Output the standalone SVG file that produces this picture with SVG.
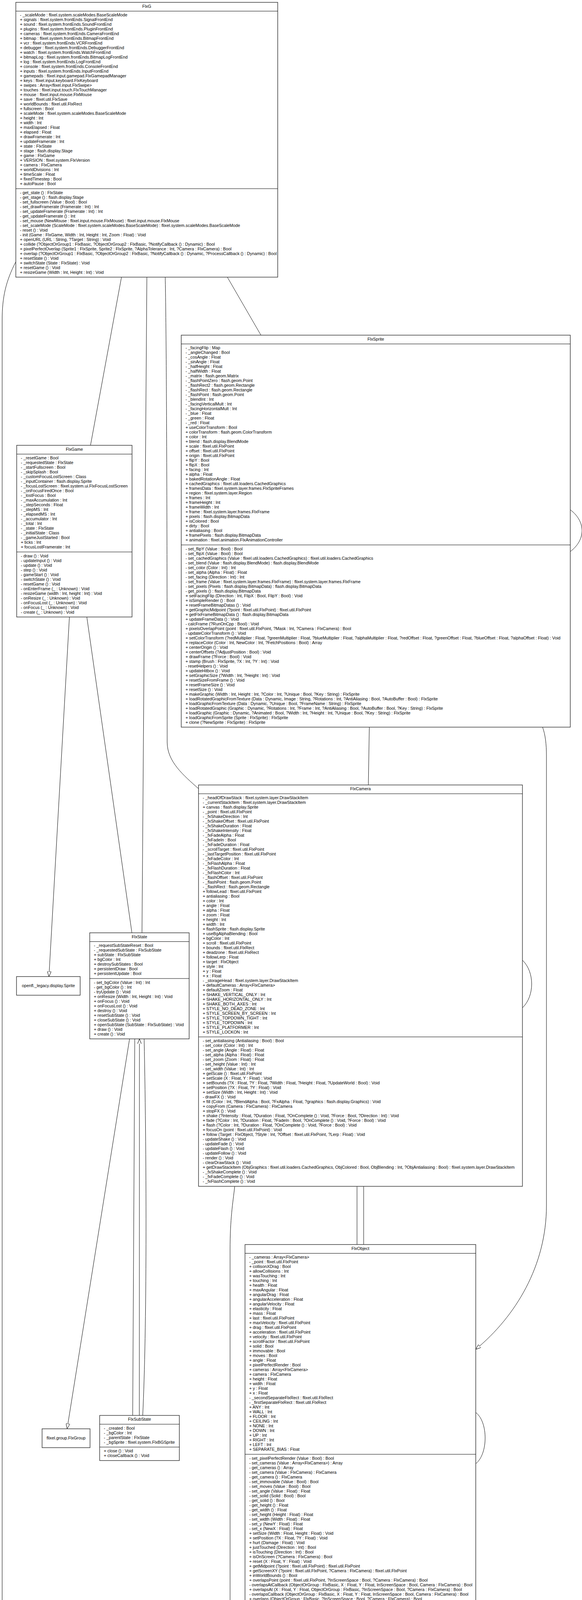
<svg xmlns="http://www.w3.org/2000/svg" width="1490" height="4787" viewBox="0 0 1490 4787">
<style>
.bg { fill:#ffffff; }
.b { fill:#ffffff; stroke:#3a3a3a; stroke-width:1.5; }
.s { stroke:#000000; stroke-width:1; }
.t { font-family:"Liberation Sans", Arial, sans-serif; font-size:10.8px; fill:#000000; }
.c { text-anchor:middle; }
.r { text-anchor:end; }
.e { fill:none; stroke:#000000; stroke-width:1; }
</style>
<defs>
<marker id="tri" viewBox="0 0 13 10" refX="13" refY="5" markerWidth="13" markerHeight="10" markerUnits="userSpaceOnUse" orient="auto">
<path d="M0,0 L13,5 L0,10 Z" fill="#ffffff" stroke="#000000" stroke-width="1"/>
</marker>
</defs>
<rect class="bg" x="0" y="0" width="1490" height="4787"/>

<g id="connectors">
<path class="e" d="M40.5,670 C15,720 5.5,760 5.5,820 L5.5,4232 C5.5,4330 250,4385 566.4,4430"/>
<path class="e" d="M311,709.5 L231.7,1140"/>
<path class="e" d="M376,709.5 L363.5,2388"/>
<path class="e" d="M423,709.5 C427,900 428,1500 428,1900 C428,1950 470,1985 508.3,2019"/>
<path class="e" d="M582,709.5 L668,858"/>
<path class="e" d="M177.7,1579.5 L125.3,2500" marker-end="url(#tri)"/>
<path class="e" d="M222.3,1579.5 L337.7,2388"/>
<path class="e" d="M945.5,1861.5 L943,2009.5"/>
<path class="e" d="M1389,1861.5 C1396,1880 1399,1905 1399,1935 L1399,3086 C1399,3240 1320,3370 1218,3454.3" marker-end="url(#tri)"/>
<path class="e" d="M1460,1305 C1500,1335 1500,1382 1460,1412"/>
<path class="e" d="M1337.5,2458 C1369,2488 1369,2550 1337.5,2580"/>
<path class="e" d="M1218,3616 C1250,3640 1250,3722 1218,3747"/>
<path class="e" d="M601,3037 C596,3080 589,3120 589,3200 L589,4260 C589,4290 605,4305 612.5,4326" marker-end="url(#tri)"/>
<path class="e" d="M914,3037 L914,3186"/>
<path class="e" d="M931,3037 L931,3186"/>
<path class="e" d="M760.7,4177.5 L720,4326" marker-end="url(#tri)"/>
<path class="e" d="M778.2,4177.5 L730.5,4326"/>
<path class="e" d="M687.7,4561.5 L687.7,4709.8" marker-end="url(#tri)"/>
<path class="e" d="M331.7,2659.5 L171.8,3657.7" marker-end="url(#tri)"/>
<path class="e" d="M356.7,3623.5 L357,2659.5" marker-end="url(#tri)"/>
<path class="e" d="M339.7,3623.5 L345,2659.5"/>
<path class="e" d="M365.4,3623.5 C376,3400 376,3000 369,2659.5"/>
</g>

<g id="FlxG">
<rect class="b" x="40.5" y="6" width="670.5" height="703.5"/>
<line class="s" x1="40.5" y1="28.5" x2="711" y2="28.5"/>
<line class="s" x1="40.5" y1="483" x2="711" y2="483"/>
<text class="t c" x="375.75" y="19.8">FlxG</text>
<text class="t" x="51.1" y="42.3"><tspan x="51.1">- _scaleMode : flixel.system.scaleModes.BaseScaleMode</tspan><tspan x="51.1" dy="12">+ signals : flixel.system.frontEnds.SignalFrontEnd</tspan><tspan x="51.1" dy="12">+ sound : flixel.system.frontEnds.SoundFrontEnd</tspan><tspan x="51.1" dy="12">+ plugins : flixel.system.frontEnds.PluginFrontEnd</tspan><tspan x="51.1" dy="12">+ cameras : flixel.system.frontEnds.CameraFrontEnd</tspan><tspan x="51.1" dy="12">+ bitmap : flixel.system.frontEnds.BitmapFrontEnd</tspan><tspan x="51.1" dy="12">+ vcr : flixel.system.frontEnds.VCRFrontEnd</tspan><tspan x="51.1" dy="12">+ debugger : flixel.system.frontEnds.DebuggerFrontEnd</tspan><tspan x="51.1" dy="12">+ watch : flixel.system.frontEnds.WatchFrontEnd</tspan><tspan x="51.1" dy="12">+ bitmapLog : flixel.system.frontEnds.BitmapLogFrontEnd</tspan><tspan x="51.1" dy="12">+ log : flixel.system.frontEnds.LogFrontEnd</tspan><tspan x="51.1" dy="12">+ console : flixel.system.frontEnds.ConsoleFrontEnd</tspan><tspan x="51.1" dy="12">+ inputs : flixel.system.frontEnds.InputFrontEnd</tspan><tspan x="51.1" dy="12">+ gamepads : flixel.input.gamepad.FlxGamepadManager</tspan><tspan x="51.1" dy="12">+ keys : flixel.input.keyboard.FlxKeyboard</tspan><tspan x="51.1" dy="12">+ swipes : Array&lt;flixel.input.FlxSwipe&gt;</tspan><tspan x="51.1" dy="12">+ touches : flixel.input.touch.FlxTouchManager</tspan><tspan x="51.1" dy="12">+ mouse : flixel.input.mouse.FlxMouse</tspan><tspan x="51.1" dy="12">+ save : flixel.util.FlxSave</tspan><tspan x="51.1" dy="12">+ worldBounds : flixel.util.FlxRect</tspan><tspan x="51.1" dy="12">+ fullscreen : Bool</tspan><tspan x="51.1" dy="12">+ scaleMode : flixel.system.scaleModes.BaseScaleMode</tspan><tspan x="51.1" dy="12">+ height : Int</tspan><tspan x="51.1" dy="12">+ width : Int</tspan><tspan x="51.1" dy="12">+ maxElapsed : Float</tspan><tspan x="51.1" dy="12">+ elapsed : Float</tspan><tspan x="51.1" dy="12">+ drawFramerate : Int</tspan><tspan x="51.1" dy="12">+ updateFramerate : Int</tspan><tspan x="51.1" dy="12">+ state : FlxState</tspan><tspan x="51.1" dy="12">+ stage : flash.display.Stage</tspan><tspan x="51.1" dy="12">+ game : FlxGame</tspan><tspan x="51.1" dy="12">+ VERSION : flixel.system.FlxVersion</tspan><tspan x="51.1" dy="12">+ camera : FlxCamera</tspan><tspan x="51.1" dy="12">+ worldDivisions : Int</tspan><tspan x="51.1" dy="12">+ timeScale : Float</tspan><tspan x="51.1" dy="12">+ fixedTimestep : Bool</tspan><tspan x="51.1" dy="12">+ autoPause : Bool</tspan></text>
<text class="t" x="51.1" y="496.8"><tspan x="51.1">- get_state () : FlxState</tspan><tspan x="51.1" dy="12">- get_stage () : flash.display.Stage</tspan><tspan x="51.1" dy="12">- set_fullscreen (Value : Bool) : Bool</tspan><tspan x="51.1" dy="12">- set_drawFramerate (Framerate : Int) : Int</tspan><tspan x="51.1" dy="12">- set_updateFramerate (Framerate : Int) : Int</tspan><tspan x="51.1" dy="12">- get_updateFramerate () : Int</tspan><tspan x="51.1" dy="12">- set_mouse (NewMouse : flixel.input.mouse.FlxMouse) : flixel.input.mouse.FlxMouse</tspan><tspan x="51.1" dy="12">- set_scaleMode (ScaleMode : flixel.system.scaleModes.BaseScaleMode) : flixel.system.scaleModes.BaseScaleMode</tspan><tspan x="51.1" dy="12">- reset () : Void</tspan><tspan x="51.1" dy="12">- init (Game : FlxGame, Width : Int, Height : Int, Zoom : Float) : Void</tspan><tspan x="51.1" dy="12">+ openURL (URL : String, ?Target : String) : Void</tspan><tspan x="51.1" dy="12">+ collide (?ObjectOrGroup1 : FlxBasic, ?ObjectOrGroup2 : FlxBasic, ?NotifyCallback () : Dynamic) : Bool</tspan><tspan x="51.1" dy="12">+ pixelPerfectOverlap (Sprite1 : FlxSprite, Sprite2 : FlxSprite, ?AlphaTolerance : Int, ?Camera : FlxCamera) : Bool</tspan><tspan x="51.1" dy="12">+ overlap (?ObjectOrGroup1 : FlxBasic, ?ObjectOrGroup2 : FlxBasic, ?NotifyCallback () : Dynamic, ?ProcessCallback () : Dynamic) : Bool</tspan><tspan x="51.1" dy="12">+ resetState () : Void</tspan><tspan x="51.1" dy="12">+ switchState (State : FlxState) : Void</tspan><tspan x="51.1" dy="12">+ resetGame () : Void</tspan><tspan x="51.1" dy="12">+ resizeGame (Width : Int, Height : Int) : Void</tspan></text>
</g>

<g id="FlxSprite">
<rect class="b" x="464" y="858" width="996" height="1003.5"/>
<line class="s" x1="464" y1="880.5" x2="1460" y2="880.5"/>
<line class="s" x1="464" y1="1395" x2="1460" y2="1395"/>
<text class="t c" x="962" y="871.8">FlxSprite</text>
<text class="t" x="475" y="894.3"><tspan x="475">- _facingFlip : Map</tspan><tspan x="475" dy="12">- _angleChanged : Bool</tspan><tspan x="475" dy="12">- _cosAngle : Float</tspan><tspan x="475" dy="12">- _sinAngle : Float</tspan><tspan x="475" dy="12">- _halfHeight : Float</tspan><tspan x="475" dy="12">- _halfWidth : Float</tspan><tspan x="475" dy="12">- _matrix : flash.geom.Matrix</tspan><tspan x="475" dy="12">- _flashPointZero : flash.geom.Point</tspan><tspan x="475" dy="12">- _flashRect2 : flash.geom.Rectangle</tspan><tspan x="475" dy="12">- _flashRect : flash.geom.Rectangle</tspan><tspan x="475" dy="12">- _flashPoint : flash.geom.Point</tspan><tspan x="475" dy="12">- _blendInt : Int</tspan><tspan x="475" dy="12">- _facingVerticalMult : Int</tspan><tspan x="475" dy="12">- _facingHorizontalMult : Int</tspan><tspan x="475" dy="12">- _blue : Float</tspan><tspan x="475" dy="12">- _green : Float</tspan><tspan x="475" dy="12">- _red : Float</tspan><tspan x="475" dy="12">+ useColorTransform : Bool</tspan><tspan x="475" dy="12">+ colorTransform : flash.geom.ColorTransform</tspan><tspan x="475" dy="12">+ color : Int</tspan><tspan x="475" dy="12">+ blend : flash.display.BlendMode</tspan><tspan x="475" dy="12">+ scale : flixel.util.FlxPoint</tspan><tspan x="475" dy="12">+ offset : flixel.util.FlxPoint</tspan><tspan x="475" dy="12">+ origin : flixel.util.FlxPoint</tspan><tspan x="475" dy="12">+ flipY : Bool</tspan><tspan x="475" dy="12">+ flipX : Bool</tspan><tspan x="475" dy="12">+ facing : Int</tspan><tspan x="475" dy="12">+ alpha : Float</tspan><tspan x="475" dy="12">+ bakedRotationAngle : Float</tspan><tspan x="475" dy="12">+ cachedGraphics : flixel.util.loaders.CachedGraphics</tspan><tspan x="475" dy="12">+ framesData : flixel.system.layer.frames.FlxSpriteFrames</tspan><tspan x="475" dy="12">+ region : flixel.system.layer.Region</tspan><tspan x="475" dy="12">+ frames : Int</tspan><tspan x="475" dy="12">+ frameHeight : Int</tspan><tspan x="475" dy="12">+ frameWidth : Int</tspan><tspan x="475" dy="12">+ frame : flixel.system.layer.frames.FlxFrame</tspan><tspan x="475" dy="12">+ pixels : flash.display.BitmapData</tspan><tspan x="475" dy="12">+ isColored : Bool</tspan><tspan x="475" dy="12">+ dirty : Bool</tspan><tspan x="475" dy="12">+ antialiasing : Bool</tspan><tspan x="475" dy="12">+ framePixels : flash.display.BitmapData</tspan><tspan x="475" dy="12">+ animation : flixel.animation.FlxAnimationController</tspan></text>
<text class="t" x="475" y="1408.8"><tspan x="475">- set_flipY (Value : Bool) : Bool</tspan><tspan x="475" dy="12">- set_flipX (Value : Bool) : Bool</tspan><tspan x="475" dy="12">- set_cachedGraphics (Value : flixel.util.loaders.CachedGraphics) : flixel.util.loaders.CachedGraphics</tspan><tspan x="475" dy="12">- set_blend (Value : flash.display.BlendMode) : flash.display.BlendMode</tspan><tspan x="475" dy="12">- set_color (Color : Int) : Int</tspan><tspan x="475" dy="12">- set_alpha (Alpha : Float) : Float</tspan><tspan x="475" dy="12">- set_facing (Direction : Int) : Int</tspan><tspan x="475" dy="12">- set_frame (Value : flixel.system.layer.frames.FlxFrame) : flixel.system.layer.frames.FlxFrame</tspan><tspan x="475" dy="12">- set_pixels (Pixels : flash.display.BitmapData) : flash.display.BitmapData</tspan><tspan x="475" dy="12">- get_pixels () : flash.display.BitmapData</tspan><tspan x="475" dy="12">+ setFacingFlip (Direction : Int, FlipX : Bool, FlipY : Bool) : Void</tspan><tspan x="475" dy="12">+ isSimpleRender () : Bool</tspan><tspan x="475" dy="12">+ resetFrameBitmapDatas () : Void</tspan><tspan x="475" dy="12">+ getGraphicMidpoint (?point : flixel.util.FlxPoint) : flixel.util.FlxPoint</tspan><tspan x="475" dy="12">+ getFlxFrameBitmapData () : flash.display.BitmapData</tspan><tspan x="475" dy="12">+ updateFrameData () : Void</tspan><tspan x="475" dy="12">- calcFrame (?RunOnCpp : Bool) : Void</tspan><tspan x="475" dy="12">+ pixelsOverlapPoint (point : flixel.util.FlxPoint, ?Mask : Int, ?Camera : FlxCamera) : Bool</tspan><tspan x="475" dy="12">- updateColorTransform () : Void</tspan><tspan x="475" dy="12">+ setColorTransform (?redMultiplier : Float, ?greenMultiplier : Float, ?blueMultiplier : Float, ?alphaMultiplier : Float, ?redOffset : Float, ?greenOffset : Float, ?blueOffset : Float, ?alphaOffset : Float) : Void</tspan><tspan x="475" dy="12">+ replaceColor (Color : Int, NewColor : Int, ?FetchPositions : Bool) : Array</tspan><tspan x="475" dy="12">+ centerOrigin () : Void</tspan><tspan x="475" dy="12">+ centerOffsets (?AdjustPosition : Bool) : Void</tspan><tspan x="475" dy="12">+ drawFrame (?Force : Bool) : Void</tspan><tspan x="475" dy="12">+ stamp (Brush : FlxSprite, ?X : Int, ?Y : Int) : Void</tspan><tspan x="475" dy="12">- resetHelpers () : Void</tspan><tspan x="475" dy="12">+ updateHitbox () : Void</tspan><tspan x="475" dy="12">+ setGraphicSize (?Width : Int, ?Height : Int) : Void</tspan><tspan x="475" dy="12">+ resetSizeFromFrame () : Void</tspan><tspan x="475" dy="12">+ resetFrameSize () : Void</tspan><tspan x="475" dy="12">+ resetSize () : Void</tspan><tspan x="475" dy="12">+ makeGraphic (Width : Int, Height : Int, ?Color : Int, ?Unique : Bool, ?Key : String) : FlxSprite</tspan><tspan x="475" dy="12">+ loadRotatedGraphicFromTexture (Data : Dynamic, Image : String, ?Rotations : Int, ?AntiAliasing : Bool, ?AutoBuffer : Bool) : FlxSprite</tspan><tspan x="475" dy="12">+ loadGraphicFromTexture (Data : Dynamic, ?Unique : Bool, ?FrameName : String) : FlxSprite</tspan><tspan x="475" dy="12">+ loadRotatedGraphic (Graphic : Dynamic, ?Rotations : Int, ?Frame : Int, ?AntiAliasing : Bool, ?AutoBuffer : Bool, ?Key : String) : FlxSprite</tspan><tspan x="475" dy="12">+ loadGraphic (Graphic : Dynamic, ?Animated : Bool, ?Width : Int, ?Height : Int, ?Unique : Bool, ?Key : String) : FlxSprite</tspan><tspan x="475" dy="12">+ loadGraphicFromSprite (Sprite : FlxSprite) : FlxSprite</tspan><tspan x="475" dy="12">+ clone (?NewSprite : FlxSprite) : FlxSprite</tspan></text>
</g>

<g id="FlxGame">
<rect class="b" x="42.7" y="1140" width="295.3" height="439.5"/>
<line class="s" x1="42.7" y1="1162.5" x2="338" y2="1162.5"/>
<line class="s" x1="42.7" y1="1413" x2="338" y2="1413"/>
<text class="t c" x="190.35" y="1153.8">FlxGame</text>
<text class="t" x="53.3" y="1176.3"><tspan x="53.3">- _resetGame : Bool</tspan><tspan x="53.3" dy="12">- _requestedState : FlxState</tspan><tspan x="53.3" dy="12">- _startFullscreen : Bool</tspan><tspan x="53.3" dy="12">- _skipSplash : Bool</tspan><tspan x="53.3" dy="12">- _customFocusLostScreen : Class</tspan><tspan x="53.3" dy="12">- _inputContainer : flash.display.Sprite</tspan><tspan x="53.3" dy="12">- _focusLostScreen : flixel.system.ui.FlxFocusLostScreen</tspan><tspan x="53.3" dy="12">- _onFocusFiredOnce : Bool</tspan><tspan x="53.3" dy="12">- _lostFocus : Bool</tspan><tspan x="53.3" dy="12">- _maxAccumulation : Int</tspan><tspan x="53.3" dy="12">- _stepSeconds : Float</tspan><tspan x="53.3" dy="12">- _stepMS : Int</tspan><tspan x="53.3" dy="12">- _elapsedMS : Int</tspan><tspan x="53.3" dy="12">- _accumulator : Int</tspan><tspan x="53.3" dy="12">- _total : Int</tspan><tspan x="53.3" dy="12">- _state : FlxState</tspan><tspan x="53.3" dy="12">- _initialState : Class</tspan><tspan x="53.3" dy="12">- _gameJustStarted : Bool</tspan><tspan x="53.3" dy="12">+ ticks : Int</tspan><tspan x="53.3" dy="12">+ focusLostFramerate : Int</tspan></text>
<text class="t" x="53.3" y="1426.8"><tspan x="53.3">- draw () : Void</tspan><tspan x="53.3" dy="12">- updateInput () : Void</tspan><tspan x="53.3" dy="12">- update () : Void</tspan><tspan x="53.3" dy="12">- step () : Void</tspan><tspan x="53.3" dy="12">- gameStart () : Void</tspan><tspan x="53.3" dy="12">- switchState () : Void</tspan><tspan x="53.3" dy="12">- resetGame () : Void</tspan><tspan x="53.3" dy="12">- onEnterFrame (_ : Unknown) : Void</tspan><tspan x="53.3" dy="12">- resizeGame (width : Int, height : Int) : Void</tspan><tspan x="53.3" dy="12">- onResize (_ : Unknown) : Void</tspan><tspan x="53.3" dy="12">- onFocusLost (_ : Unknown) : Void</tspan><tspan x="53.3" dy="12">- onFocus (_ : Unknown) : Void</tspan><tspan x="53.3" dy="12">- create (_ : Unknown) : Void</tspan></text>
</g>

<g id="FlxCamera">
<rect class="b" x="508.3" y="2009.5" width="829.2" height="1027.5"/>
<line class="s" x1="508.3" y1="2032" x2="1337.5" y2="2032"/>
<line class="s" x1="508.3" y1="2654.5" x2="1337.5" y2="2654.5"/>
<text class="t c" x="922.9" y="2023.3">FlxCamera</text>
<text class="t" x="519" y="2045.8"><tspan x="519">- _headOfDrawStack : flixel.system.layer.DrawStackItem</tspan><tspan x="519" dy="12">- _currentStackItem : flixel.system.layer.DrawStackItem</tspan><tspan x="519" dy="12">+ canvas : flash.display.Sprite</tspan><tspan x="519" dy="12">- _point : flixel.util.FlxPoint</tspan><tspan x="519" dy="12">- _fxShakeDirection : Int</tspan><tspan x="519" dy="12">- _fxShakeOffset : flixel.util.FlxPoint</tspan><tspan x="519" dy="12">- _fxShakeDuration : Float</tspan><tspan x="519" dy="12">- _fxShakeIntensity : Float</tspan><tspan x="519" dy="12">- _fxFadeAlpha : Float</tspan><tspan x="519" dy="12">- _fxFadeIn : Bool</tspan><tspan x="519" dy="12">- _fxFadeDuration : Float</tspan><tspan x="519" dy="12">- _scrollTarget : flixel.util.FlxPoint</tspan><tspan x="519" dy="12">- _lastTargetPosition : flixel.util.FlxPoint</tspan><tspan x="519" dy="12">- _fxFadeColor : Int</tspan><tspan x="519" dy="12">- _fxFlashAlpha : Float</tspan><tspan x="519" dy="12">- _fxFlashDuration : Float</tspan><tspan x="519" dy="12">- _fxFlashColor : Int</tspan><tspan x="519" dy="12">- _flashOffset : flixel.util.FlxPoint</tspan><tspan x="519" dy="12">- _flashPoint : flash.geom.Point</tspan><tspan x="519" dy="12">- _flashRect : flash.geom.Rectangle</tspan><tspan x="519" dy="12">+ followLead : flixel.util.FlxPoint</tspan><tspan x="519" dy="12">+ antialiasing : Bool</tspan><tspan x="519" dy="12">+ color : Int</tspan><tspan x="519" dy="12">+ angle : Float</tspan><tspan x="519" dy="12">+ alpha : Float</tspan><tspan x="519" dy="12">+ zoom : Float</tspan><tspan x="519" dy="12">+ height : Int</tspan><tspan x="519" dy="12">+ width : Int</tspan><tspan x="519" dy="12">+ flashSprite : flash.display.Sprite</tspan><tspan x="519" dy="12">+ useBgAlphaBlending : Bool</tspan><tspan x="519" dy="12">+ bgColor : Int</tspan><tspan x="519" dy="12">+ scroll : flixel.util.FlxPoint</tspan><tspan x="519" dy="12">+ bounds : flixel.util.FlxRect</tspan><tspan x="519" dy="12">+ deadzone : flixel.util.FlxRect</tspan><tspan x="519" dy="12">+ followLerp : Float</tspan><tspan x="519" dy="12">+ target : FlxObject</tspan><tspan x="519" dy="12">+ style : Int</tspan><tspan x="519" dy="12">+ y : Float</tspan><tspan x="519" dy="12">+ x : Float</tspan><tspan x="519" dy="12">- _storageHead : flixel.system.layer.DrawStackItem</tspan><tspan x="519" dy="12">+ defaultCameras : Array&lt;FlxCamera&gt;</tspan><tspan x="519" dy="12">+ defaultZoom : Float</tspan><tspan x="519" dy="12">+ SHAKE_VERTICAL_ONLY : Int</tspan><tspan x="519" dy="12">+ SHAKE_HORIZONTAL_ONLY : Int</tspan><tspan x="519" dy="12">+ SHAKE_BOTH_AXES : Int</tspan><tspan x="519" dy="12">+ STYLE_NO_DEAD_ZONE : Int</tspan><tspan x="519" dy="12">+ STYLE_SCREEN_BY_SCREEN : Int</tspan><tspan x="519" dy="12">+ STYLE_TOPDOWN_TIGHT : Int</tspan><tspan x="519" dy="12">+ STYLE_TOPDOWN : Int</tspan><tspan x="519" dy="12">+ STYLE_PLATFORMER : Int</tspan><tspan x="519" dy="12">+ STYLE_LOCKON : Int</tspan></text>
<text class="t" x="519" y="2668.3"><tspan x="519">- set_antialiasing (Antialiasing : Bool) : Bool</tspan><tspan x="519" dy="12">- set_color (Color : Int) : Int</tspan><tspan x="519" dy="12">- set_angle (Angle : Float) : Float</tspan><tspan x="519" dy="12">- set_alpha (Alpha : Float) : Float</tspan><tspan x="519" dy="12">- set_zoom (Zoom : Float) : Float</tspan><tspan x="519" dy="12">- set_height (Value : Int) : Int</tspan><tspan x="519" dy="12">- set_width (Value : Int) : Int</tspan><tspan x="519" dy="12">+ getScale () : flixel.util.FlxPoint</tspan><tspan x="519" dy="12">+ setScale (X : Float, Y : Float) : Void</tspan><tspan x="519" dy="12">+ setBounds (?X : Float, ?Y : Float, ?Width : Float, ?Height : Float, ?UpdateWorld : Bool) : Void</tspan><tspan x="519" dy="12">+ setPosition (?X : Float, ?Y : Float) : Void</tspan><tspan x="519" dy="12">+ setSize (Width : Int, Height : Int) : Void</tspan><tspan x="519" dy="12">- drawFX () : Void</tspan><tspan x="519" dy="12">+ fill (Color : Int, ?BlendAlpha : Bool, ?FxAlpha : Float, ?graphics : flash.display.Graphics) : Void</tspan><tspan x="519" dy="12">+ copyFrom (Camera : FlxCamera) : FlxCamera</tspan><tspan x="519" dy="12">+ stopFX () : Void</tspan><tspan x="519" dy="12">+ shake (?Intensity : Float, ?Duration : Float, ?OnComplete () : Void, ?Force : Bool, ?Direction : Int) : Void</tspan><tspan x="519" dy="12">+ fade (?Color : Int, ?Duration : Float, ?FadeIn : Bool, ?OnComplete () : Void, ?Force : Bool) : Void</tspan><tspan x="519" dy="12">+ flash (?Color : Int, ?Duration : Float, ?OnComplete () : Void, ?Force : Bool) : Void</tspan><tspan x="519" dy="12">+ focusOn (point : flixel.util.FlxPoint) : Void</tspan><tspan x="519" dy="12">+ follow (Target : FlxObject, ?Style : Int, ?Offset : flixel.util.FlxPoint, ?Lerp : Float) : Void</tspan><tspan x="519" dy="12">- updateShake () : Void</tspan><tspan x="519" dy="12">- updateFade () : Void</tspan><tspan x="519" dy="12">- updateFlash () : Void</tspan><tspan x="519" dy="12">- updateFollow () : Void</tspan><tspan x="519" dy="12">- render () : Void</tspan><tspan x="519" dy="12">- clearDrawStack () : Void</tspan><tspan x="519" dy="12">+ getDrawStackItem (ObjGraphics : flixel.util.loaders.CachedGraphics, ObjColored : Bool, ObjBlending : Int, ?ObjAntialiasing : Bool) : flixel.system.layer.DrawStackItem</tspan><tspan x="519" dy="12">- _fxShakeComplete () : Void</tspan><tspan x="519" dy="12">- _fxFadeComplete () : Void</tspan><tspan x="519" dy="12">- _fxFlashComplete () : Void</tspan></text>
</g>

<g id="FlxState">
<rect class="b" x="229.7" y="2388" width="254.6" height="271.5"/>
<line class="s" x1="229.7" y1="2410.5" x2="484.3" y2="2410.5"/>
<line class="s" x1="229.7" y1="2505" x2="484.3" y2="2505"/>
<text class="t c" x="357" y="2401.8">FlxState</text>
<text class="t" x="240.3" y="2424.3"><tspan x="240.3">- _requestSubStateReset : Bool</tspan><tspan x="240.3" dy="12">- _requestedSubState : FlxSubState</tspan><tspan x="240.3" dy="12">+ subState : FlxSubState</tspan><tspan x="240.3" dy="12">+ bgColor : Int</tspan><tspan x="240.3" dy="12">+ destroySubStates : Bool</tspan><tspan x="240.3" dy="12">+ persistentDraw : Bool</tspan><tspan x="240.3" dy="12">+ persistentUpdate : Bool</tspan></text>
<text class="t" x="240.3" y="2518.8"><tspan x="240.3">- set_bgColor (Value : Int) : Int</tspan><tspan x="240.3" dy="12">- get_bgColor () : Int</tspan><tspan x="240.3" dy="12">- tryUpdate () : Void</tspan><tspan x="240.3" dy="12">+ onResize (Width : Int, Height : Int) : Void</tspan><tspan x="240.3" dy="12">+ onFocus () : Void</tspan><tspan x="240.3" dy="12">+ onFocusLost () : Void</tspan><tspan x="240.3" dy="12">+ destroy () : Void</tspan><tspan x="240.3" dy="12">+ resetSubState () : Void</tspan><tspan x="240.3" dy="12">+ closeSubState () : Void</tspan><tspan x="240.3" dy="12">+ openSubState (SubState : FlxSubState) : Void</tspan><tspan x="240.3" dy="12">+ draw () : Void</tspan><tspan x="240.3" dy="12">+ create () : Void</tspan></text>
</g>

<g id="FlxObject">
<rect class="b" x="627.3" y="3186" width="590.7" height="991.5"/>
<line class="s" x1="627.3" y1="3208.5" x2="1218" y2="3208.5"/>
<line class="s" x1="627.3" y1="3723" x2="1218" y2="3723"/>
<text class="t c" x="922.65" y="3199.8">FlxObject</text>
<text class="t" x="637.9" y="3222.3"><tspan x="637.9">- _cameras : Array&lt;FlxCamera&gt;</tspan><tspan x="637.9" dy="12">- _point : flixel.util.FlxPoint</tspan><tspan x="637.9" dy="12">+ collisonXDrag : Bool</tspan><tspan x="637.9" dy="12">+ allowCollisions : Int</tspan><tspan x="637.9" dy="12">+ wasTouching : Int</tspan><tspan x="637.9" dy="12">+ touching : Int</tspan><tspan x="637.9" dy="12">+ health : Float</tspan><tspan x="637.9" dy="12">+ maxAngular : Float</tspan><tspan x="637.9" dy="12">+ angularDrag : Float</tspan><tspan x="637.9" dy="12">+ angularAcceleration : Float</tspan><tspan x="637.9" dy="12">+ angularVelocity : Float</tspan><tspan x="637.9" dy="12">+ elasticity : Float</tspan><tspan x="637.9" dy="12">+ mass : Float</tspan><tspan x="637.9" dy="12">+ last : flixel.util.FlxPoint</tspan><tspan x="637.9" dy="12">+ maxVelocity : flixel.util.FlxPoint</tspan><tspan x="637.9" dy="12">+ drag : flixel.util.FlxPoint</tspan><tspan x="637.9" dy="12">+ acceleration : flixel.util.FlxPoint</tspan><tspan x="637.9" dy="12">+ velocity : flixel.util.FlxPoint</tspan><tspan x="637.9" dy="12">+ scrollFactor : flixel.util.FlxPoint</tspan><tspan x="637.9" dy="12">+ solid : Bool</tspan><tspan x="637.9" dy="12">+ immovable : Bool</tspan><tspan x="637.9" dy="12">+ moves : Bool</tspan><tspan x="637.9" dy="12">+ angle : Float</tspan><tspan x="637.9" dy="12">+ pixelPerfectRender : Bool</tspan><tspan x="637.9" dy="12">+ cameras : Array&lt;FlxCamera&gt;</tspan><tspan x="637.9" dy="12">+ camera : FlxCamera</tspan><tspan x="637.9" dy="12">+ height : Float</tspan><tspan x="637.9" dy="12">+ width : Float</tspan><tspan x="637.9" dy="12">+ y : Float</tspan><tspan x="637.9" dy="12">+ x : Float</tspan><tspan x="637.9" dy="12">- _secondSeparateFlxRect : flixel.util.FlxRect</tspan><tspan x="637.9" dy="12">- _firstSeparateFlxRect : flixel.util.FlxRect</tspan><tspan x="637.9" dy="12">+ ANY : Int</tspan><tspan x="637.9" dy="12">+ WALL : Int</tspan><tspan x="637.9" dy="12">+ FLOOR : Int</tspan><tspan x="637.9" dy="12">+ CEILING : Int</tspan><tspan x="637.9" dy="12">+ NONE : Int</tspan><tspan x="637.9" dy="12">+ DOWN : Int</tspan><tspan x="637.9" dy="12">+ UP : Int</tspan><tspan x="637.9" dy="12">+ RIGHT : Int</tspan><tspan x="637.9" dy="12">+ LEFT : Int</tspan><tspan x="637.9" dy="12">+ SEPARATE_BIAS : Float</tspan></text>
<text class="t" x="637.9" y="3736.8"><tspan x="637.9">- set_pixelPerfectRender (Value : Bool) : Bool</tspan><tspan x="637.9" dy="12">- set_cameras (Value : Array&lt;FlxCamera&gt;) : Array</tspan><tspan x="637.9" dy="12">- get_cameras () : Array</tspan><tspan x="637.9" dy="12">- set_camera (Value : FlxCamera) : FlxCamera</tspan><tspan x="637.9" dy="12">- get_camera () : FlxCamera</tspan><tspan x="637.9" dy="12">- set_immovable (Value : Bool) : Bool</tspan><tspan x="637.9" dy="12">- set_moves (Value : Bool) : Bool</tspan><tspan x="637.9" dy="12">- set_angle (Value : Float) : Float</tspan><tspan x="637.9" dy="12">- set_solid (Solid : Bool) : Bool</tspan><tspan x="637.9" dy="12">- get_solid () : Bool</tspan><tspan x="637.9" dy="12">- get_height () : Float</tspan><tspan x="637.9" dy="12">- get_width () : Float</tspan><tspan x="637.9" dy="12">- set_height (Height : Float) : Float</tspan><tspan x="637.9" dy="12">- set_width (Width : Float) : Float</tspan><tspan x="637.9" dy="12">- set_y (NewY : Float) : Float</tspan><tspan x="637.9" dy="12">- set_x (NewX : Float) : Float</tspan><tspan x="637.9" dy="12">+ setSize (Width : Float, Height : Float) : Void</tspan><tspan x="637.9" dy="12">+ setPosition (?X : Float, ?Y : Float) : Void</tspan><tspan x="637.9" dy="12">+ hurt (Damage : Float) : Void</tspan><tspan x="637.9" dy="12">+ justTouched (Direction : Int) : Bool</tspan><tspan x="637.9" dy="12">+ isTouching (Direction : Int) : Bool</tspan><tspan x="637.9" dy="12">+ isOnScreen (?Camera : FlxCamera) : Bool</tspan><tspan x="637.9" dy="12">+ reset (X : Float, Y : Float) : Void</tspan><tspan x="637.9" dy="12">+ getMidpoint (?point : flixel.util.FlxPoint) : flixel.util.FlxPoint</tspan><tspan x="637.9" dy="12">+ getScreenXY (?point : flixel.util.FlxPoint, ?Camera : FlxCamera) : flixel.util.FlxPoint</tspan><tspan x="637.9" dy="12">+ inWorldBounds () : Bool</tspan><tspan x="637.9" dy="12">+ overlapsPoint (point : flixel.util.FlxPoint, ?InScreenSpace : Bool, ?Camera : FlxCamera) : Bool</tspan><tspan x="637.9" dy="12">- overlapsAtCallback (ObjectOrGroup : FlxBasic, X : Float, Y : Float, InScreenSpace : Bool, Camera : FlxCamera) : Bool</tspan><tspan x="637.9" dy="12">+ overlapsAt (X : Float, Y : Float, ObjectOrGroup : FlxBasic, ?InScreenSpace : Bool, ?Camera : FlxCamera) : Bool</tspan><tspan x="637.9" dy="12">- overlapsCallback (ObjectOrGroup : FlxBasic, X : Float, Y : Float, InScreenSpace : Bool, Camera : FlxCamera) : Bool</tspan><tspan x="637.9" dy="12">+ overlaps (ObjectOrGroup : FlxBasic, ?InScreenSpace : Bool, ?Camera : FlxCamera) : Bool</tspan><tspan x="637.9" dy="12">- updateMotion () : Void</tspan><tspan x="637.9" dy="12">- initMotionVars () : Void</tspan><tspan x="637.9" dy="12">- initVars () : Void</tspan><tspan x="637.9" dy="12">+ separateY (Object1 : FlxObject, Object2 : FlxObject) : Bool</tspan><tspan x="637.9" dy="12">+ separateX (Object1 : FlxObject, Object2 : FlxObject) : Bool</tspan><tspan x="637.9" dy="12">+ separate (Object1 : FlxObject, Object2 : FlxObject) : Bool</tspan></text>
</g>

<g id="FlxSubState">
<rect class="b" x="255.2" y="3623.5" width="204" height="115.5"/>
<line class="s" x1="255.2" y1="3646" x2="459.2" y2="3646"/>
<line class="s" x1="255.2" y1="3704.5" x2="459.2" y2="3704.5"/>
<text class="t c" x="357.2" y="3637.3">FlxSubState</text>
<text class="t" x="265.8" y="3659.8"><tspan x="265.8">- _created : Bool</tspan><tspan x="265.8" dy="12">- _bgColor : Int</tspan><tspan x="265.8" dy="12">- _parentState : FlxState</tspan><tspan x="265.8" dy="12">- _bgSprite : flixel.system.FlxBGSprite</tspan></text>
<text class="t" x="265.8" y="3718.3"><tspan x="265.8">+ close () : Void</tspan><tspan x="265.8" dy="12">+ closeCallback () : Void</tspan></text>
</g>

<g id="FlxBasic">
<rect class="b" x="566.4" y="4326" width="242.6" height="235.5"/>
<line class="s" x1="566.4" y1="4348.5" x2="809" y2="4348.5"/>
<line class="s" x1="566.4" y1="4431" x2="809" y2="4431"/>
<text class="t c" x="687.7" y="4339.8">FlxBasic</text>
<text class="t" x="577" y="4362.3"><tspan x="577">+ collisionType : flixel.system.FlxCollisionType</tspan><tspan x="577" dy="12">+ exists : Bool</tspan><tspan x="577" dy="12">+ alive : Bool</tspan><tspan x="577" dy="12">+ visible : Bool</tspan><tspan x="577" dy="12">+ active : Bool</tspan><tspan x="577" dy="12">+ ID : Int</tspan></text>
<text class="t" x="577" y="4444.8"><tspan x="577">+ new () : Void</tspan><tspan x="577" dy="12">+ toString () : String</tspan><tspan x="577" dy="12">- set_alive (Value : Bool) : Bool</tspan><tspan x="577" dy="12">- set_exists (Value : Bool) : Bool</tspan><tspan x="577" dy="12">- set_active (Value : Bool) : Bool</tspan><tspan x="577" dy="12">- set_visible (Value : Bool) : Bool</tspan><tspan x="577" dy="12">+ draw () : Void</tspan><tspan x="577" dy="12">+ update () : Void</tspan><tspan x="577" dy="12">+ revive () : Void</tspan><tspan x="577" dy="12">+ kill () : Void</tspan></text>
</g>

<g id="openfl_legacy_display_Sprite">
<rect class="b" x="42.3" y="2500" width="163" height="47.7"/>
<text class="t c" x="123.8" y="2527.3">openfl._legacy.display.Sprite</text>
</g>

<g id="flixel_group_FlxGroup">
<rect class="b" x="107.7" y="3657.7" width="122.8" height="48.3"/>
<text class="t c" x="169.1" y="3685.3">flixel.group.FlxGroup</text>
</g>

<g id="flixel_interfaces_IFlxDestroyable">
<rect class="b" x="599.8" y="4709.8" width="176.2" height="48"/>
<text class="t c" x="687.9" y="4737.3">flixel.interfaces.IFlxDestroyable</text>
</g>

<g id="package_label">
<text class="t r" x="778" y="4772.8">Package: flixel</text>
</g>
</svg>
